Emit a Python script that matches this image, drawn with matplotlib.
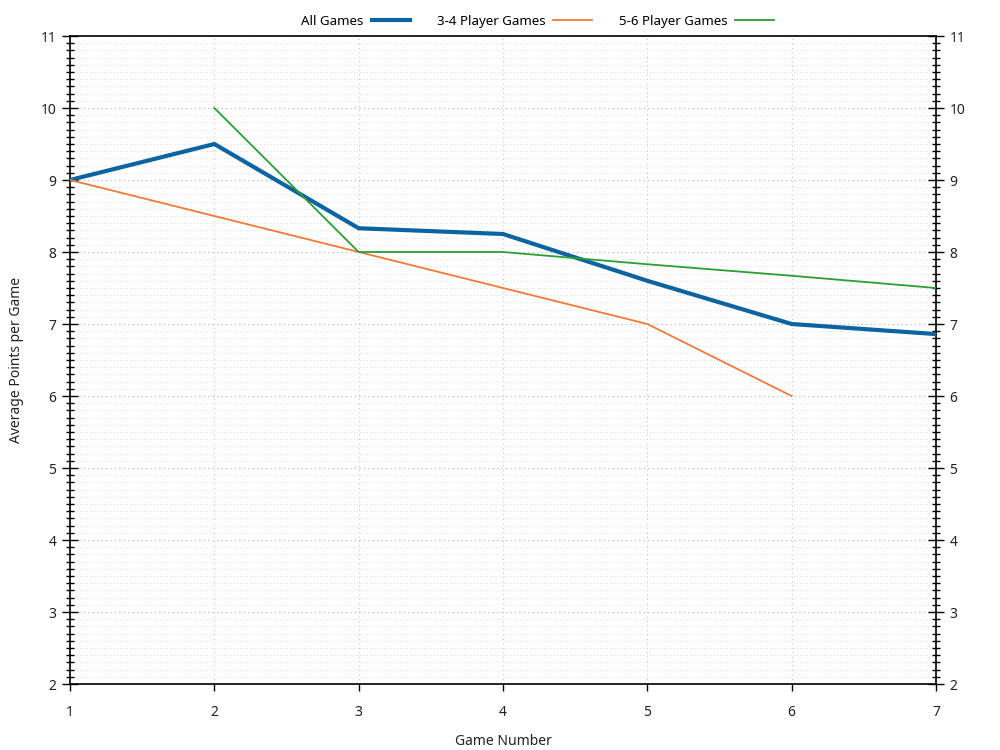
import matplotlib.pyplot as plt
from matplotlib.ticker import MultipleLocator

plt.rcParams['font.family'] = ['Noto Sans', 'DejaVu Sans']

# data
games = [1, 2, 3, 4, 5, 6, 7]
all_games = [9.0, 9.5, 8.33, 8.25, 7.6, 7.0, 6.86]
games_34 = [1, 2, 3, 4, 5, 6]
pts_34 = [9.0, 8.5, 8.0, 7.5, 7.0, 6.0]
games_56 = [2, 3, 4, 5, 6, 7]
pts_56 = [10.0, 8.0, 8.0, 7.83, 7.67, 7.5]

fig = plt.figure(figsize=(10, 7.5), dpi=100)
ax = fig.add_axes([0.07, 0.088, 0.866, 0.864])

ax.plot(games, all_games, color='#0b64a2', lw=3.0, label='All Games', zorder=3)
ax.plot(games_34, pts_34, color='#f07a3a', lw=1.3, label='3-4 Player Games', zorder=3)
ax.plot(games_56, pts_56, color='#2a9e34', lw=1.3, label='5-6 Player Games', zorder=3)

ax.set_xlim(1, 7)
ax.set_ylim(2, 11)
ax.xaxis.set_major_locator(MultipleLocator(1))
ax.yaxis.set_major_locator(MultipleLocator(1))
ax.yaxis.set_minor_locator(MultipleLocator(0.1))

# grid
ax.grid(True, which='major', axis='y', color='#aaaaaa', ls=(0, (1, 3)), lw=0.8)
ax.grid(True, which='minor', axis='y', color='#cccccc', ls=(0, (1, 3)), lw=0.6)
ax.grid(True, which='major', axis='x', color='#c4c4c4', ls=(0, (1, 3)), lw=0.8)

ax.tick_params(axis='y', which='major', direction='inout', length=11.5, width=1,
               left=True, right=True, labelleft=True, labelright=True,
               labelsize=10, pad=4, labelcolor='#222222')
ax.tick_params(axis='y', which='minor', direction='inout', length=5.5, width=1,
               left=True, right=True)
ax.tick_params(axis='x', which='major', direction='out', length=5, width=1,
               labelsize=10, pad=10, labelcolor='#222222')

for s in ax.spines.values():
    s.set_linewidth(1.2)

ax.set_xlabel('Game Number', fontsize=10, color='#222222', labelpad=10)
ax.set_ylabel('Average Points per Game', fontsize=10, color='#222222', labelpad=12)

ax.legend(loc='lower center', bbox_to_anchor=(0.54, 1.0), ncol=3, frameon=False,
          markerfirst=False, fontsize=9.6, handlelength=2.9, handletextpad=0.6,
          columnspacing=2.0, borderaxespad=0.2)

fig.savefig('out.png', dpi=100)
